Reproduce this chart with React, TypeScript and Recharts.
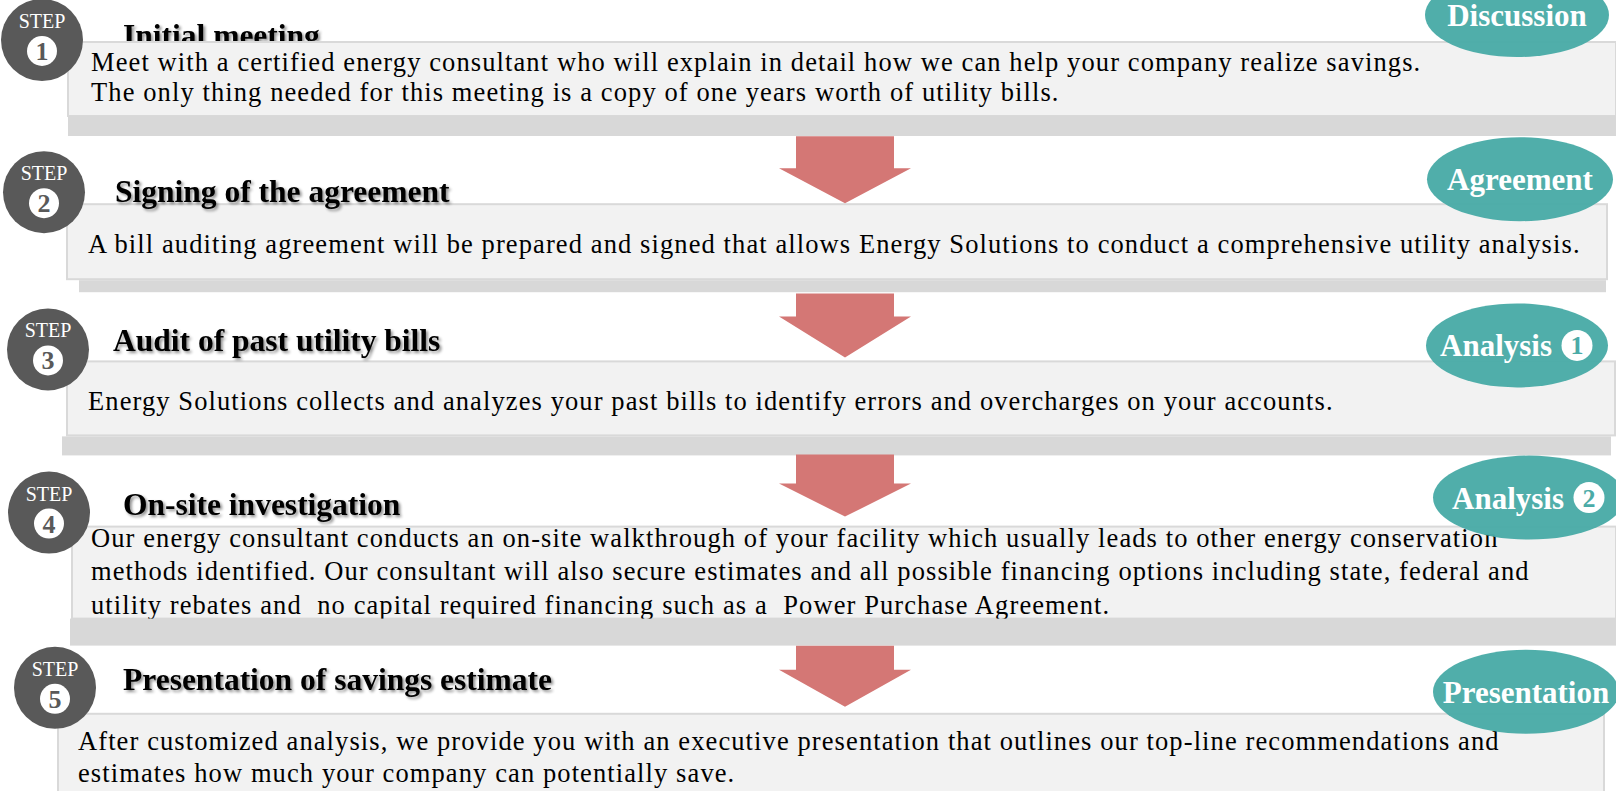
import { BarChart, Bar, XAxis, YAxis } from 'recharts';

const STEP_NUMBERS = [1, 2, 3, 4, 5];
const STEP_TITLES = [
  'Initial meeting',
  'Signing of the agreement',
  'Audit of past utility bills',
  'On-site investigation',
  'Presentation of savings estimate',
];
const STEP_BADGES = ['Discussion', 'Agreement', 'Analysis', 'Analysis', 'Presentation'];
const BADGE_NUMBERS = [0, 0, 1, 2, 0];
const STEP_LINES = [
  [
    'Meet with a certified energy consultant who will explain in detail how we can help your company realize savings.',
    'The only thing needed for this meeting is a copy of one years worth of utility bills.',
  ],
  [
    'A bill auditing agreement will be prepared and signed that allows Energy Solutions to conduct a comprehensive utility analysis.',
  ],
  ['Energy Solutions collects and analyzes your past bills to identify errors and overcharges on your accounts.'],
  [
    'Our energy consultant conducts an on-site walkthrough of your facility which usually leads to other energy conservation',
    'methods identified. Our consultant will also secure estimates and all possible financing options including state, federal and',
    'utility rebates and  no capital required financing such as a  Power Purchase Agreement.',
  ],
  [
    'After customized analysis, we provide you with an executive presentation that outlines our top-line recommendations and',
    'estimates how much your company can potentially save.',
  ],
];
// every step spans the full row
const STEP_SPAN = [1, 1, 1, 1, 1];

const data = STEP_NUMBERS.map((n, i) => ({
  step: `STEP ${n}`,
  num: n,
  title: STEP_TITLES[i],
  badge: STEP_BADGES[i],
  badgeNum: BADGE_NUMBERS[i],
  lines: STEP_LINES[i],
  span: STEP_SPAN[i],
}));

// per-row drawing offsets, y values relative to the top of each band
const ROW_LAYOUT = [
  { cx: 42, cy: 40, titleX: 123, titleY: 46, boxX: 68, boxR: 1616, boxY: 42, boxB: 116, shX: 68, shR: 1616, shY: 116, shB: 136, textX: 91, lineY: 71, lineH: 30, bx: 1517, by: 15, brx: 92, arrow: null },
  { cx: 44, cy: 34, titleX: 115, titleY: 44, boxX: 67, boxR: 1607, boxY: 46, boxB: 121, shX: 79, shR: 1606, shY: 122, shB: 134, textX: 88, lineY: 95, lineH: 30, bx: 1520, by: 21, brx: 93, arrow: [-22, 10, 45] },
  { cx: 48, cy: 33, titleX: 113, titleY: 35, boxX: 67, boxR: 1615, boxY: 45, boxB: 119, shX: 62, shR: 1611, shY: 120, shB: 139, textX: 88, lineY: 94, lineH: 30, bx: 1517, by: 29, brx: 91, arrow: [-23, 0, 41] },
  { cx: 49, cy: 38, titleX: 123, titleY: 40, boxX: 72, boxR: 1616, boxY: 52, boxB: 144, shX: 70, shR: 1616, shY: 144, shB: 171, textX: 91, lineY: 72, lineH: 33.5, bx: 1529, by: 23, brx: 96, arrow: [-20, 9, 42] },
  { cx: 55, cy: 55, titleX: 123, titleY: 57, boxX: 58, boxR: 1604, boxY: 81, boxB: 170, shX: 0, shR: 0, shY: 0, shB: 0, textX: 78, lineY: 117, lineH: 32, bx: 1526, by: 59, brx: 93, arrow: [13, 37, 74] },
];

const SERIF = '"Liberation Serif", "Times New Roman", serif';
const TEAL = '#4aaba7';
const GREY = '#595959';
const ARROW = '#d47775';
const ARROW_X = 845;

const renderRow = (props: any) => {
  const { y, index } = props;
  const d = data[index];
  const L = ROW_LAYOUT[index];
  const t = y;
  const badgeY = t + L.by;
  const title = (
    <text x={L.titleX} y={t + L.titleY} fontFamily={SERIF} fontSize={31.5} fontWeight="bold" fill="#000" filter="url(#titleShadow)">
      {d.title}
    </text>
  );
  return (
    <g>
      {index === 0 && (
        <defs>
          <filter id="titleShadow" x="-5%" y="-40%" width="110%" height="180%">
            <feGaussianBlur in="SourceAlpha" stdDeviation="1.8" />
            <feOffset dx="2" dy="2" result="blur" />
            <feComponentTransfer>
              <feFuncA type="linear" slope="0.45" />
            </feComponentTransfer>
            <feMerge>
              <feMergeNode />
              <feMergeNode in="SourceGraphic" />
            </feMerge>
          </filter>
        </defs>
      )}
      {index === 0 && title}
      <rect x={L.boxX} y={t + L.boxY} width={L.boxR - L.boxX} height={L.boxB - L.boxY} fill="#f2f2f2" stroke="#d9d9d9" strokeWidth={2} />
      {index !== 0 && title}
      {d.lines.map((line: string, k: number) => (
        <text key={k} x={L.textX} y={t + L.lineY + k * L.lineH} fontFamily={SERIF} fontSize={26.5} letterSpacing={1.1} fill="#000" style={{ whiteSpace: 'pre' }}>
          {line}
        </text>
      ))}
      {L.shR > 0 && <rect x={L.shX} y={t + L.shY} width={L.shR - L.shX} height={L.shB - L.shY} fill="#d8d8d8" />}
      <circle cx={L.cx} cy={t + L.cy} r={41} fill={GREY} />
      <text x={L.cx} y={t + L.cy - 12} textAnchor="middle" fontFamily={SERIF} fontSize={20} fill="#fff">
        STEP
      </text>
      <circle cx={L.cx} cy={t + L.cy + 11} r={15} fill="#fff" />
      <text x={L.cx} y={t + L.cy + 20} textAnchor="middle" fontFamily={SERIF} fontSize={26} fontWeight="bold" fill={GREY}>
        {d.num}
      </text>
      <ellipse cx={L.bx} cy={badgeY} rx={L.brx} ry={42} fill={TEAL} fillOpacity={0.97} />
      {d.badgeNum ? (
        <g>
          <text x={L.bx - 77} y={badgeY + 11} fontFamily={SERIF} fontSize={31} fontWeight="bold" fill="#fff">
            {d.badge}
          </text>
          <circle cx={L.bx + 60} cy={badgeY} r={15.5} fill="#fff" />
          <text x={L.bx + 60} y={badgeY + 9} textAnchor="middle" fontFamily={SERIF} fontSize={26} fontWeight="bold" fill={TEAL}>
            {d.badgeNum}
          </text>
        </g>
      ) : (
        <text x={L.bx} y={badgeY + 11} textAnchor="middle" fontFamily={SERIF} fontSize={31} fontWeight="bold" fill="#fff">
          {d.badge}
        </text>
      )}
      {L.arrow && (
        <polygon
          points={[
            [ARROW_X - 49, t + L.arrow[0]],
            [ARROW_X + 49, t + L.arrow[0]],
            [ARROW_X + 49, t + L.arrow[1]],
            [ARROW_X + 66, t + L.arrow[1]],
            [ARROW_X, t + L.arrow[2]],
            [ARROW_X - 66, t + L.arrow[1]],
            [ARROW_X - 49, t + L.arrow[1]],
          ]
            .map((p) => p.join(','))
            .join(' ')}
          fill={ARROW}
        />
      )}
    </g>
  );
};

export default function App() {
  return (
    <div style={{ position: 'fixed', left: 0, top: 0, width: 1616, height: 791, background: '#fff' }}>
      <BarChart width={1616} height={791} data={data} layout="vertical" margin={{ top: 0, right: 0, left: 0, bottom: 0 }} barCategoryGap={0}>
        <XAxis type="number" domain={[0, 1]} hide />
        <YAxis type="category" dataKey="step" hide />
        <Bar dataKey="span" isAnimationActive={false} shape={renderRow} />
      </BarChart>
    </div>
  );
}
